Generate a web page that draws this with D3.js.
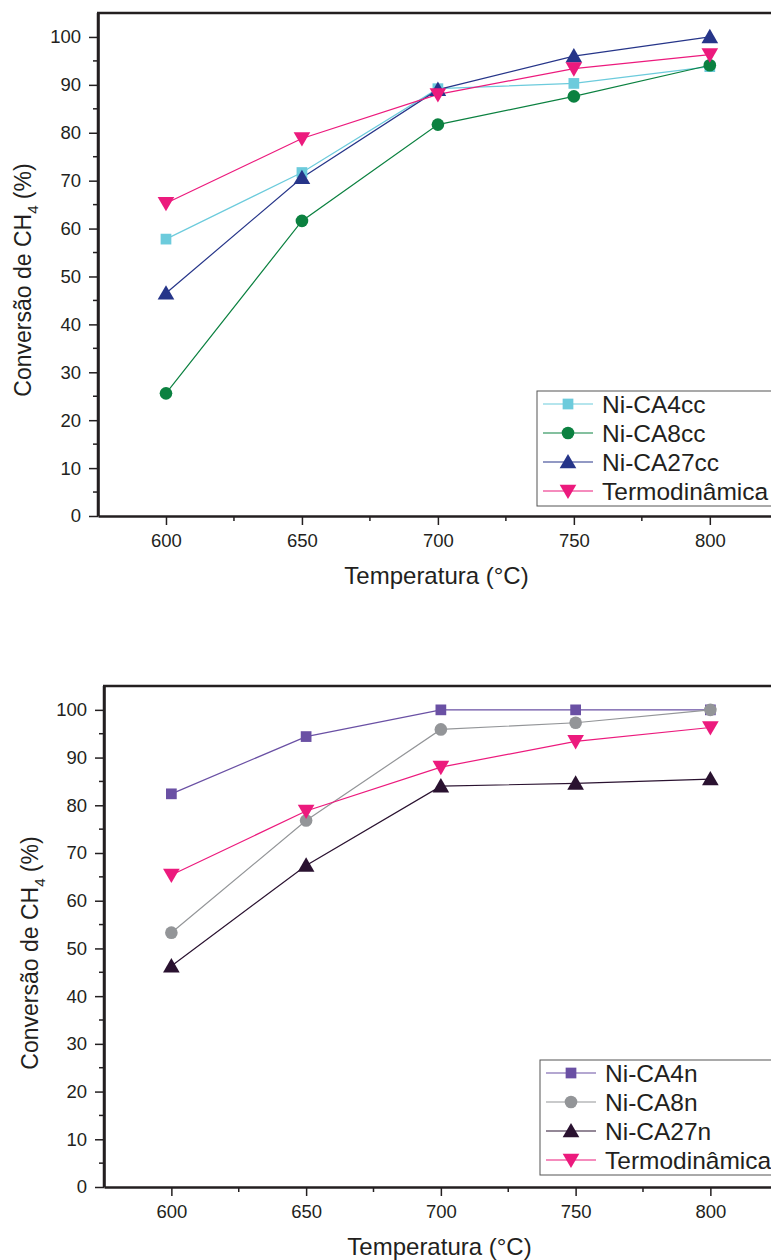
<!DOCTYPE html>
<html><head><meta charset="utf-8">
<script src="https://cdn.jsdelivr.net/npm/d3@7"></script>
<style>body{margin:0;background:#fff}svg{display:block}text{font-family:"Liberation Sans",Arial,sans-serif}</style>
</head><body><svg id="c" width="771" height="1260"></svg>
<script>
const temps = [600, 650, 700, 750, 800];
const xTicks = [600, 650, 700, 750, 800];
const yTicks = [0, 10, 20, 30, 40, 50, 60, 70, 80, 90, 100];

const topNames = ["Ni-CA4cc", "Ni-CA8cc", "Ni-CA27cc", "Termodinâmica"];
const topCA4cc = [57.8, 71.7, 89.2, 90.3, 93.8];
const topCA8cc = [25.6, 61.6, 81.7, 87.6, 94.1];
const topCA27cc = [46.5, 70.6, 89.0, 96.0, 100.0];
const topTermo = [65.3, 78.8, 88.0, 93.4, 96.3];

const botNames = ["Ni-CA4n", "Ni-CA8n", "Ni-CA27n", "Termodinâmica"];
const botCA4n = [82.4, 94.4, 100.0, 100.0, 100.0];
const botCA8n = [53.3, 76.8, 95.9, 97.3, 100.0];
const botCA27n = [46.3, 67.4, 84.0, 84.6, 85.5];
const botTermo = [65.4, 78.8, 88.0, 93.4, 96.3];

const svg = d3.select("#c");
const sym = {
  square: d3.symbolSquare, circle: d3.symbolCircle, tri: d3.symbolTriangle, tri2: d3.symbolTriangle
};
const INK = "#231f20";

function markTransform(s, px, py) {
  const dy = s.shape === "tri" ? 1.5 : s.shape === "tri2" ? -1.5 : 0;
  return `translate(${px},${py + dy})${s.shape === "tri2" ? " rotate(180)" : ""}`;
}

function drawChart(cfg) {
  const g = svg.append("g");
  const x = d3.scaleLinear().domain([575, 822.5]).range([cfg.left, 771]);
  const y = d3.scaleLinear().domain([0, 105]).range([cfg.bottom, cfg.top]);

  const xMinor = d3.range(625, 800, 50);
  g.append("g").selectAll("line").data(xMinor).join("line")
    .attr("x1", d => x(d)).attr("x2", d => x(d))
    .attr("y1", cfg.bottom).attr("y2", cfg.bottom + 5)
    .attr("stroke", INK).attr("stroke-width", 1.5);
  const yMinor = d3.range(5, 105, 10);
  g.append("g").selectAll("line").data(yMinor).join("line")
    .attr("x1", cfg.left).attr("x2", cfg.left - 5)
    .attr("y1", d => y(d)).attr("y2", d => y(d))
    .attr("stroke", INK).attr("stroke-width", 1.5);

  const xAxis = g.append("g").attr("transform", `translate(0,${cfg.bottom})`)
    .call(d3.axisBottom(x).tickValues(xTicks).tickSize(9).tickPadding(9).tickSizeOuter(0));
  const yAxis = g.append("g").attr("transform", `translate(${cfg.left},0)`)
    .call(d3.axisLeft(y).tickValues(yTicks).tickSize(9).tickPadding(8).tickSizeOuter(0));
  [xAxis, yAxis].forEach(a => {
    a.select(".domain").attr("stroke", INK).attr("stroke-width", 2.5);
    a.selectAll(".tick line").attr("stroke", INK).attr("stroke-width", 1.5);
    a.selectAll(".tick text").attr("fill", INK).style("font-size", "18.5px")
      .style("font-family", '"Liberation Sans",Arial,sans-serif');
  });
  g.append("line").attr("x1", cfg.left).attr("x2", cfg.left).attr("y1", cfg.top).attr("y2", cfg.bottom)
    .attr("stroke", INK).attr("stroke-width", 2.5);
  g.append("line").attr("x1", cfg.left - 1).attr("x2", 771).attr("y1", cfg.top).attr("y2", cfg.top)
    .attr("stroke", INK).attr("stroke-width", 2.5);

  cfg.series.forEach(s => {
    const line = d3.line().x((d, i) => x(temps[i])).y(d => y(d));
    g.append("path").datum(s.values).attr("d", line)
      .attr("fill", "none").attr("stroke", s.color).attr("stroke-width", 1.2);
  });
  cfg.series.forEach(s => {
    g.append("g").selectAll("path").data(s.values).join("path")
      .attr("d", d3.symbol().type(sym[s.shape]).size(s.size))
      .attr("transform", (d, i) => markTransform(s, x(temps[i]), y(d)))
      .attr("fill", s.color);
  });

  const L = cfg.legend;
  g.append("rect").attr("x", L.x).attr("y", L.y).attr("width", 771 - L.x + 5).attr("height", L.h)
    .attr("fill", "#fff").attr("stroke", "#555").attr("stroke-width", 1);
  cfg.series.forEach((s, i) => {
    const cy = L.y + 13 + i * 29;
    g.append("line").attr("x1", L.x + 6).attr("x2", L.x + 56).attr("y1", cy).attr("y2", cy)
      .attr("stroke", s.color).attr("stroke-width", 1.2);
    g.append("path").attr("d", d3.symbol().type(sym[s.shape]).size(s.size))
      .attr("transform", markTransform(s, L.x + 31, cy))
      .attr("fill", s.color);
    g.append("text").attr("x", L.x + 65).attr("y", cy + 8.5).text(cfg.names[i])
      .attr("fill", INK).style("font-size", "24.5px");
  });

  g.append("text").attr("x", (cfg.left + 771) / 2 + 2).attr("y", cfg.bottom + 68)
    .attr("text-anchor", "middle").attr("fill", INK).style("font-size", "24px")
    .text("Temperatura (°C)");
  const yt = g.append("text")
    .attr("transform", `translate(${cfg.ytx},${(cfg.top + cfg.bottom) / 2 + cfg.ytdy}) rotate(-90)`)
    .attr("text-anchor", "middle").attr("fill", INK).style("font-size", "23px");
  yt.append("tspan").text("Conversão de CH");
  yt.append("tspan").attr("dy", 7).style("font-size", "15px").text("4");
  yt.append("tspan").attr("dy", -7).text(" (%)");
}

drawChart({
  left: 98, top: 13, bottom: 516, ytx: 31, ytdy: 15.5,
  names: topNames,
  legend: { x: 537, y: 391, h: 115 },
  series: [
    { values: topCA4cc, color: "#6ccbdc", shape: "square", size: 115 },
    { values: topCA8cc, color: "#0b8140", shape: "circle", size: 125 },
    { values: topCA27cc, color: "#263589", shape: "tri", size: 120 },
    { values: topTermo, color: "#ec1a7d", shape: "tri2", size: 120 }
  ]
});
drawChart({
  left: 104, top: 686, bottom: 1187, ytx: 38, ytdy: 16.5,
  names: botNames,
  legend: { x: 540, y: 1060, h: 115 },
  series: [
    { values: botCA4n, color: "#6a50a4", shape: "square", size: 115 },
    { values: botCA8n, color: "#939598", shape: "circle", size: 125 },
    { values: botCA27n, color: "#2a1230", shape: "tri", size: 120 },
    { values: botTermo, color: "#ec1a7d", shape: "tri2", size: 120 }
  ]
});
</script></body></html>
